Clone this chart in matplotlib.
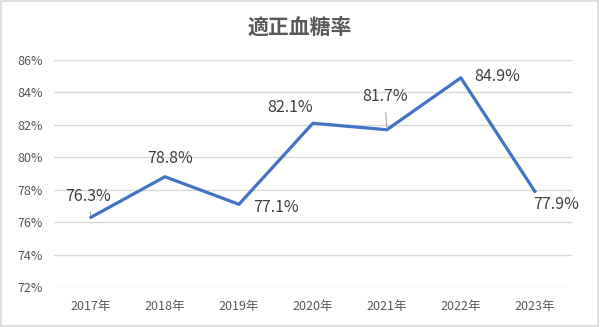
import matplotlib
matplotlib.use("Agg")
import matplotlib.pyplot as plt
from matplotlib.patches import Rectangle

plt.rcParams['font.family'] = ['Noto Sans CJK JP', 'DejaVu Sans']

years = ['2017年', '2018年', '2019年', '2020年', '2021年', '2022年', '2023年']
values = [76.3, 78.8, 77.1, 82.1, 81.7, 84.9, 77.9]
yticks = [72, 74, 76, 78, 80, 82, 84, 86]
title = '適正血糖率'
# label offsets in pixels (dx right, dy up) relative to each point
offsets = [(-3, 21), (5, 18), (37, -3), (-23, 16), (-2, 33), (36, 1), (21, -13)]
leaders = [True, False, False, False, True, False, False]

fig = plt.figure(figsize=(6.0, 3.27), dpi=100)
ax = fig.add_axes([0.09, 0.1223, 0.863, 0.6942])

x = list(range(len(years)))
ax.plot(x, values, color='#4472C4', lw=2.3, solid_joinstyle='round', zorder=3)

for i, (v, (dx, dy), ld) in enumerate(zip(values, offsets, leaders)):
    txt = f'{v:.1f}%'
    kw = dict(xy=(i, v), xytext=(dx * 0.72, dy * 0.72), textcoords='offset points',
              ha='center', va='center', fontsize=11.5, color='#404040', zorder=4)
    if ld:
        kw['arrowprops'] = dict(arrowstyle='-', color='#A6A6A6', lw=0.8,
                                shrinkA=3, shrinkB=1)
    ax.annotate(txt, **kw)

ax.set_xlim(-0.5, len(years) - 0.5)
ax.set_ylim(72, 86)
ax.set_yticks(yticks)
ax.set_yticklabels([f'{t}%' for t in yticks])
ax.set_xticks(x)
ax.set_xticklabels(years)
ax.tick_params(axis='both', length=0, labelsize=9, labelcolor='#595959')
ax.tick_params(axis='x', pad=9)
ax.tick_params(axis='y', pad=8)
ax.grid(axis='y', color='#D9D9D9', lw=1)
ax.set_axisbelow(True)
for s in ax.spines.values():
    s.set_visible(False)

fig.text(0.5, 0.915, title, ha='center', va='center', fontsize=15, color='#595959',
         fontweight='bold')

fig.patches.append(Rectangle((0.002, 0.003), 0.995, 0.993, transform=fig.transFigure,
                             fill=False, edgecolor='#D9D9D9', lw=1.2))

fig.savefig('out.png', dpi=100)
